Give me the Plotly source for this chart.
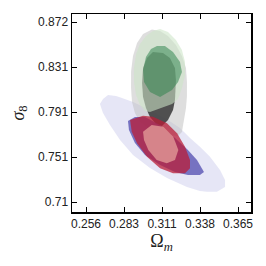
import plotly.graph_objects as go

# Axis ticks
x_tickvals = [0.256, 0.28325, 0.3105, 0.33775, 0.365]
x_ticktext = ["0.256", "0.283", "0.311", "0.338", "0.365"]
y_tickvals = [0.71, 0.7505, 0.791, 0.8315, 0.872]
y_ticktext = ["0.71", "0.751", "0.791", "0.831", "0.872"]

# Contour outlines (Omega_m, sigma_8)
blue2_om = [0.2660, 0.2682, 0.2718, 0.2775, 0.2818, 0.2897, 0.3019, 0.3126, 0.3234, 0.3306, 0.3377, 0.3449,
            0.3521, 0.3557, 0.3557, 0.3499, 0.3428, 0.3377, 0.3284, 0.3141, 0.3019, 0.2947, 0.2897, 0.2804,
            0.2732, 0.2682]
blue2_s8 = [0.7982, 0.8027, 0.8063, 0.8054, 0.8036, 0.8000, 0.7928, 0.7856, 0.7766, 0.7676, 0.7598, 0.7508,
            0.7388, 0.7298, 0.7235, 0.7193, 0.7193, 0.7199, 0.7235, 0.7316, 0.7406, 0.7478, 0.7523, 0.7658,
            0.7793, 0.7901]

gray2_om = [0.3033, 0.3091, 0.3148, 0.3205, 0.3248, 0.3277, 0.3284, 0.3284, 0.3277, 0.3263, 0.3248, 0.3220,
            0.3162, 0.3091, 0.3004, 0.2947, 0.2911, 0.2890, 0.2883, 0.2883, 0.2897, 0.2926, 0.2969]
gray2_s8 = [0.8653, 0.8639, 0.8594, 0.8513, 0.8414, 0.8306, 0.8180, 0.8054, 0.7946, 0.7838, 0.7730, 0.7694,
            0.7703, 0.7730, 0.7766, 0.7820, 0.7901, 0.8000, 0.8126, 0.8270, 0.8414, 0.8531, 0.8612]

gray1_om = [0.3040, 0.3112, 0.3162, 0.3198, 0.3205, 0.3198, 0.3184, 0.3148, 0.3105, 0.3062, 0.3019, 0.2990,
            0.2969, 0.2962, 0.2969, 0.2997]
gray1_s8 = [0.8450, 0.8441, 0.8396, 0.8306, 0.8198, 0.8018, 0.7928, 0.7838, 0.7784, 0.7802, 0.7865, 0.7946,
            0.8045, 0.8171, 0.8306, 0.8396]

green2_om = [0.3091, 0.3148, 0.3205, 0.3248, 0.3270, 0.3270, 0.3248, 0.3220, 0.3177, 0.3105, 0.3019, 0.2983,
             0.2947, 0.2919, 0.2904, 0.2904, 0.2919, 0.2947, 0.2990, 0.3040]
green2_s8 = [0.8657, 0.8630, 0.8558, 0.8468, 0.8360, 0.8243, 0.8126, 0.8027, 0.7982, 0.7946, 0.7910, 0.7919,
             0.7973, 0.8063, 0.8180, 0.8306, 0.8432, 0.8522, 0.8594, 0.8639]

green1_om = [0.3069, 0.3126, 0.3184, 0.3234, 0.3248, 0.3220, 0.3177, 0.3091, 0.3019, 0.2976, 0.2969, 0.2990,
             0.3026]
green1_s8 = [0.8504, 0.8504, 0.8450, 0.8360, 0.8270, 0.8180, 0.8108, 0.8045, 0.8090, 0.8180, 0.8288, 0.8405,
             0.8477]

blue1_om = [0.2861, 0.2911, 0.2983, 0.3091, 0.3198, 0.3291, 0.3356, 0.3406, 0.3377, 0.3291, 0.3198, 0.3091,
            0.2983, 0.2911, 0.2868]
blue1_s8 = [0.7829, 0.7865, 0.7865, 0.7793, 0.7676, 0.7568, 0.7478, 0.7370, 0.7343, 0.7343, 0.7370, 0.7433,
            0.7523, 0.7631, 0.7748]

red2_om = [0.2876, 0.2969, 0.3040, 0.3141, 0.3213, 0.3270, 0.3306, 0.3306, 0.3270, 0.3184, 0.3091, 0.2997,
           0.2926, 0.2888]
red2_s8 = [0.7838, 0.7877, 0.7868, 0.7808, 0.7718, 0.7598, 0.7478, 0.7403, 0.7358, 0.7358, 0.7403, 0.7508,
           0.7628, 0.7733]

red1_om = [0.2969, 0.3031, 0.3114, 0.3186, 0.3222, 0.3198, 0.3139, 0.3067, 0.3007, 0.2976]
red1_s8 = [0.7733, 0.7793, 0.7778, 0.7688, 0.7568, 0.7478, 0.7448, 0.7478, 0.7568, 0.7658]

layers = [
    (blue2_om, blue2_s8, "rgba(200,200,235,0.45)"),
    (gray2_om, gray2_s8, "rgba(190,190,190,0.50)"),
    (gray1_om, gray1_s8, "rgba(55,55,55,0.85)"),
    (green2_om, green2_s8, "rgba(205,230,200,0.58)"),
    (green1_om, green1_s8, "rgba(45,130,75,0.52)"),
    (blue1_om, blue1_s8, "rgba(90,85,180,0.80)"),
    (red2_om, red2_s8, "rgba(185,30,55,0.75)"),
    (red1_om, red1_s8, "rgba(230,160,155,0.75)"),
]

fig = go.Figure()
for xs, ys, col in layers:
    fig.add_trace(go.Scatter(x=xs + xs[:1], y=ys + ys[:1], mode="lines", fill="toself",
                             fillcolor=col, line=dict(width=0),
                             hoverinfo="skip", showlegend=False))

axis_common = dict(showline=True, mirror="ticks", linecolor="black", linewidth=1.5,
                   ticks="inside", ticklen=5, tickwidth=1, tickcolor="black",
                   showgrid=False, zeroline=False, automargin=False,
                   tickfont=dict(family="Liberation Sans, Arial, sans-serif", size=12, color="#222"))

fig.update_xaxes(range=[0.24596, 0.37432], tickvals=x_tickvals, ticktext=x_ticktext,
                 title=dict(text="Ω<sub><i>m</i></sub>", standoff=0,
                            font=dict(family="Liberation Serif, serif", size=18, color="#222")),
                 **axis_common)
fig.update_yaxes(range=[0.7010, 0.8792], tickvals=y_tickvals, ticktext=y_ticktext,
                 title=dict(text="<i>σ</i><sub>8</sub>", standoff=9,
                            font=dict(family="Liberation Serif, serif", size=18, color="#222")),
                 **axis_common)

fig.update_layout(width=266, height=266, margin=dict(l=72, r=15, t=14, b=54),
                  paper_bgcolor="white", plot_bgcolor="white")

fig.write_html("out.html", config={"displayModeBar": False, "staticPlot": True},
               post_script="document.body.style.margin='0';document.body.style.padding='0';")
